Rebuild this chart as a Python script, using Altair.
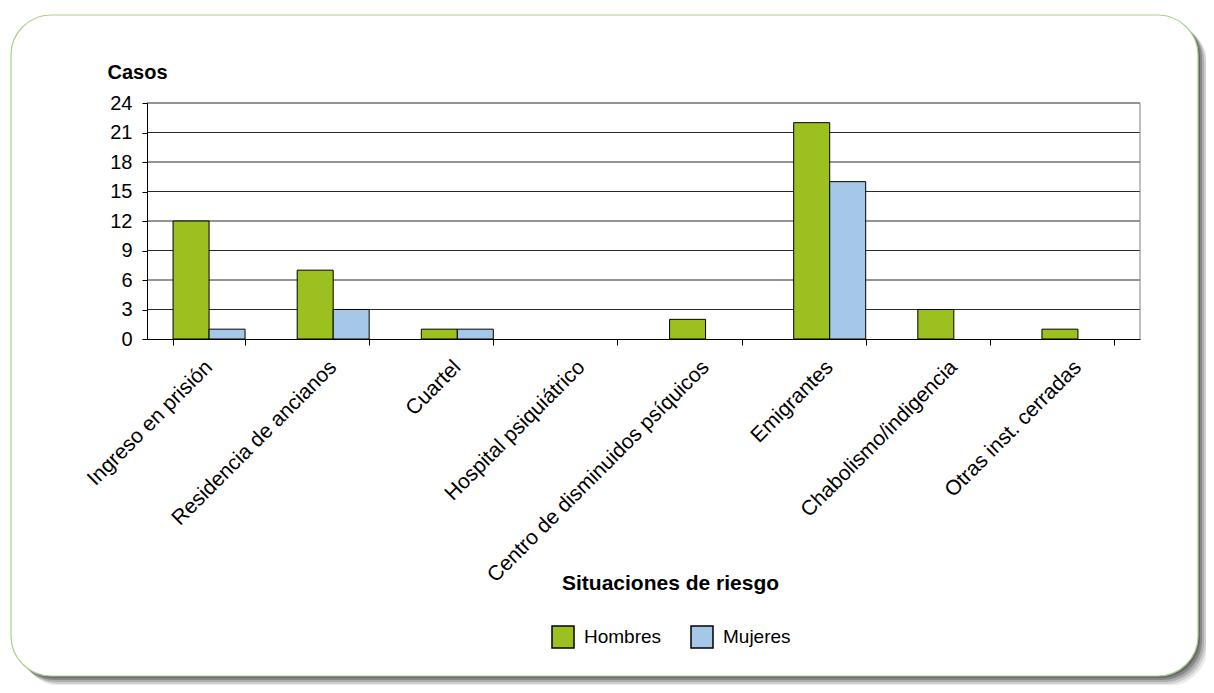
import altair as alt
import pandas as pd

categorias = ["Ingreso en prisión", "Residencia de ancianos", "Cuartel",
              "Hospital psiquiátrico", "Centro de disminuidos psíquicos",
              "Emigrantes", "Chabolismo/indigencia", "Otras inst. cerradas"]
hombres = [12, 7, 1, 0, 2, 22, 3, 1]
mujeres = [1, 3, 1, 0, 0, 16, 0, 0]
series = ["Hombres", "Mujeres"]
colores = ["#9CC01F", "#A5C8E8"]
y_ticks = [0, 3, 6, 9, 12, 15, 18, 21, 24]

rows = []
for c, h, m in zip(categorias, hombres, mujeres):
    rows.append({"cat": c, "serie": "Hombres", "casos": h})
    rows.append({"cat": c, "serie": "Mujeres", "casos": m})
df = pd.DataFrame(rows)
grid_df = pd.DataFrame({"v": y_ticks[1:]})

FONT = "Liberation Sans"

# decorative frame (rounded panel with shadow)
frame_data = alt.Data(values=[{"k": 1}])
L, R, T, B = -136, 1051, -88, 573
shadows = []
for dx, op in [(10, 0.08), (8, 0.12), (6, 0.16), (4, 0.22), (2, 0.22)]:
    shadows.append(
        alt.Chart(frame_data).mark_rect(cornerRadius=40, fill="#000000", opacity=op)
        .encode(x=alt.value(L + dx), x2=alt.value(R + dx),
                y=alt.value(T + dx), y2=alt.value(B + dx))
    )
panel = alt.Chart(frame_data).mark_rect(
    cornerRadius=40, fill="white", stroke="#A9D18E", strokeWidth=1.2
).encode(x=alt.value(L), x2=alt.value(R), y=alt.value(T), y2=alt.value(B))

y_scale = alt.Scale(domain=[0, 24], nice=False)
y_axis = alt.Axis(values=y_ticks, title="Casos", titleAngle=0,
                  titleX=-40, titleY=-31, titleAlign="left",
                  titleBaseline="middle", titleFont=FONT,
                  titleFontSize=20, titleFontWeight="bold", titleColor="black",
                  labelFontSize=20, labelFont=FONT, labelColor="black",
                  labelOverlap=False,
                  labelPadding=10, tickSize=5, tickColor="black",
                  domainColor="black", grid=False, zindex=2)

grid = alt.Chart(grid_df).mark_rule(color="#2a2a2a", strokeWidth=1).encode(
    y=alt.Y("v:Q", scale=y_scale, axis=y_axis)
)
border = alt.Chart(frame_data).mark_rule(color="#808080", strokeWidth=1).encode(
    x=alt.value(993), y=alt.value(0), y2=alt.value(236)
)

bars = alt.Chart(df).transform_filter("datum.casos > 0").mark_bar(
    stroke="black", strokeWidth=1
).encode(
    x=alt.X("cat:N", sort=categorias,
            scale=alt.Scale(domain=categorias, paddingInner=0.42, paddingOuter=0.21),
            axis=alt.Axis(title="Situaciones de riesgo", labelAngle=-45,
                          labelFontSize=21, labelFont=FONT, labelColor="black",
                          labelPadding=11, labelOffset=-8, labelLimit=500,
                          tickBand="extent", tickSize=6, tickColor="black",
                          domainColor="black", grid=False, zindex=2,
                          titleFont=FONT, titleFontSize=21, titleFontWeight="bold",
                          titleColor="black", titleX=523, titleY=244,
                          titleAlign="center", titleBaseline="middle")),
    xOffset=alt.XOffset("serie:N", sort=series,
                        scale=alt.Scale(domain=series, paddingInner=0, paddingOuter=0)),
    y=alt.Y("casos:Q", scale=y_scale, axis=y_axis),
    color=alt.Color("serie:N", sort=series,
                    scale=alt.Scale(domain=series, range=colores),
                    legend=alt.Legend(title=None, orient="none", direction="horizontal",
                                      legendX=404, legendY=522,
                                      symbolType="square", symbolSize=484,
                                      symbolStrokeColor="black", symbolStrokeWidth=1.5,
                                      symbolOpacity=1, zindex=2,
                                      labelFont=FONT, labelFontSize=19, labelColor="black",
                                      labelOffset=9, columnPadding=26)),
)

chart = alt.layer(*shadows, panel, grid, border, bars).properties(
    width=993, height=236,
    autosize=alt.AutoSizeParams(type="none"),
    padding={"left": 139, "top": 95, "right": 66, "bottom": 346},
).configure_view(stroke=None).configure(background="white")

chart.save("out.html", embed_options={"renderer": "svg", "actions": False})
